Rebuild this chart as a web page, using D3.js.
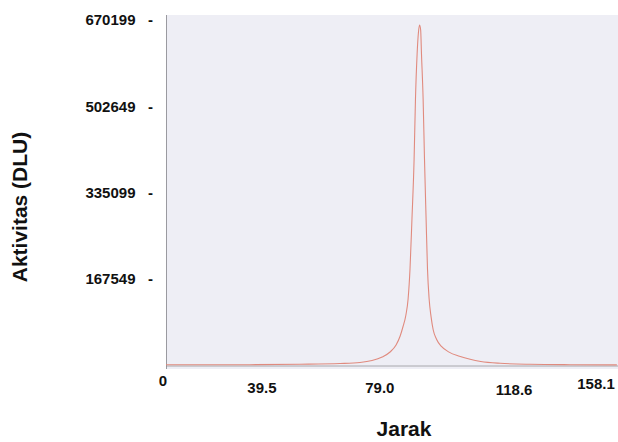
<!DOCTYPE html>
<html lang="id">
<head>
    <meta charset="utf-8">
    <title>Aktivitas vs Jarak</title>
    <style>
        body { margin: 0; background: #fff; }
        text { font-family: "Liberation Sans", Arial, sans-serif; font-weight: bold; fill: #111; }
    </style>
</head>
<body>
    <svg width="618" height="442"></svg>
    <script src="https://cdn.jsdelivr.net/npm/d3@7"></script>
    <script>
        // values
        const jarak = [0, 30.7, 49.0, 63.7, 71.0, 75.4, 79.1, 82.0, 84.2, 85.7, 86.7, 87.8, 88.6, 89.3,
            90.0, 90.8, 91.3, 91.9, 92.4, 92.8, 93.2, 93.5, 94.1, 94.6, 95.2, 95.7, 96.3, 97.0, 97.8,
            99.0, 100.8, 103.6, 107.4, 111.3, 115.2, 122.3, 133.2, 147.9, 165.0];
        const aktivitas = [500, 600, 1400, 2900, 4900, 8700, 15500, 25300, 38900, 56300, 73800, 97100,
            128200, 186500, 281700, 400200, 516700, 604100, 646900, 660500, 650700, 604100, 516700,
            400200, 281700, 186500, 128200, 94000, 68000, 50000, 36000, 25000, 17000, 11000, 6800,
            3300, 1400, 600, 300];

        const yTicks = [167549, 335099, 502649, 670199];
        const xTicks = ["0", "39.5", "79.0", "118.6", "158.1"];
        // the scanned labels sit a little off their ticks
        const xNudge = [[-3, -5], [-12, 2], [-2, 2], [24, 4], [-2, -2]];

        const svg = d3.select("svg");
        const plot = { left: 166, right: 618, top: 15, bottom: 369 };

        const x = d3.scaleLinear().domain([0, 158.1]).range([166, 598]);
        const y = d3.scaleLinear().domain([0, 670199]).range([365, 20]);

        svg.append("rect")
            .attr("x", plot.left)
            .attr("y", plot.top)
            .attr("width", plot.right - plot.left)
            .attr("height", plot.bottom - plot.top)
            .attr("fill", "#eeeef5");

        // left edge and baseline
        svg.append("line")
            .attr("x1", plot.left + 0.5).attr("x2", plot.left + 0.5)
            .attr("y1", plot.top).attr("y2", plot.bottom)
            .attr("stroke", "#9a9aa0");
        svg.append("line")
            .attr("x1", plot.left).attr("x2", plot.right)
            .attr("y1", y(0) + 1).attr("y2", y(0) + 1)
            .attr("stroke", "#8a8a90")
            .attr("stroke-opacity", 0.7);

        const line = d3.line()
            .x((d, i) => x(jarak[i]))
            .y(d => y(d))
            .curve(d3.curveMonotoneX);

        svg.append("path")
            .attr("d", line(aktivitas))
            .attr("fill", "none")
            .attr("stroke", "#e08a7e")
            .attr("stroke-width", 1.1);

        // y axis labels: "value  -"
        const yAxis = d3.axisLeft(y)
            .tickValues(yTicks)
            .tickSize(0)
            .tickPadding(0)
            .tickFormat(d => d + "\u00a0\u00a0\u00a0-");
        const gy = svg.append("g")
            .attr("transform", "translate(153,0)")
            .call(yAxis);
        gy.select(".domain").remove();
        gy.selectAll("text")
            .attr("font-size", 15)
            .style("font-family", null);

        svg.selectAll(".xlab")
            .data(xTicks)
            .join("text")
            .attr("class", "xlab")
            .attr("x", (d, i) => x(+d) + xNudge[i][0])
            .attr("y", (d, i) => 391 + xNudge[i][1])
            .attr("text-anchor", "middle")
            .attr("font-size", 15)
            .text(d => d);

        svg.append("text")
            .attr("transform", "translate(27,207) rotate(-90)")
            .attr("text-anchor", "middle")
            .attr("font-size", 21)
            .text("Aktivitas (DLU)");

        svg.append("text")
            .attr("x", 404)
            .attr("y", 436)
            .attr("text-anchor", "middle")
            .attr("font-size", 21)
            .text("Jarak");
    </script>
</body>
</html>
